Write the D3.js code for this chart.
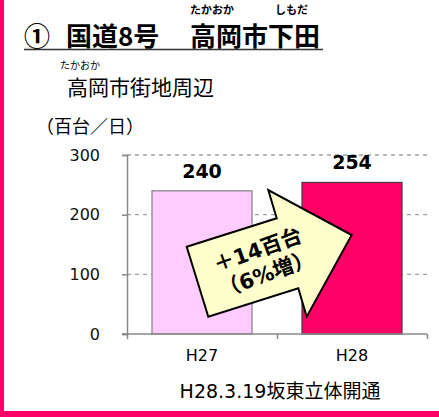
<!DOCTYPE html>
<html>
<head>
<meta charset="utf-8">
<script src="https://cdn.jsdelivr.net/npm/d3@7"></script>
<style>
  body { margin: 0; background: #fff; }
  svg text { font-family: "DejaVu Sans", "Noto Sans CJK JP", sans-serif; }
  svg text.jp { font-family: "Noto Sans CJK JP", sans-serif; }
</style>
</head>
<body>
<svg width="439" height="417"></svg>
<script>
'use strict';

var categories = ['H27', 'H28'],
    values = [240, 254],
    barColors = ['#ffccff', '#ff0066'],
    barStrokes = ['#7f7f7f', '#404040'],
    yTicks = [0, 100, 200, 300],
    titleParts = ['①', '国道8号', '高岡市下田'],
    titleRuby = ['たかおか', 'しもだ'],
    subtitle = '高岡市街地周辺',
    subtitleRuby = 'たかおか',
    unitLabel = '（百台／日）',
    note = 'H28.3.19坂東立体開通',
    arrowLines = ['＋14百台', '（6%増）'];

var svg = d3.select('svg');

// page frame (pink left and bottom edges)
svg.append('rect').attr('x', 0).attr('y', 0).attr('width', 4).attr('height', 417).attr('fill', '#ff0066');
svg.append('rect').attr('x', 0).attr('y', 411).attr('width', 439).attr('height', 6).attr('fill', '#ff0066');

// title with ruby
var titleX = [24, 66, 190];
svg.append('g').selectAll('text')
    .data(titleParts)
    .enter().append('text')
    .attr('class', 'jp')
    .attr('x', function (d, i) { return titleX[i]; })
    .attr('y', 46)
    .style('font-size', '26px').style('font-weight', 'bold')
    .text(function (d) { return d; });
svg.append('line').attr('x1', 24).attr('x2', 323).attr('y1', 49.5).attr('y2', 49.5)
    .attr('stroke', '#333').attr('stroke-width', 1.5);
var rubyX = [190, 275];
svg.append('g').selectAll('text')
    .data(titleRuby)
    .enter().append('text')
    .attr('class', 'jp')
    .attr('x', function (d, i) { return rubyX[i]; })
    .attr('y', 14)
    .style('font-size', '11px').style('font-weight', 'bold')
    .text(function (d) { return d; });

svg.append('text').attr('class', 'jp').attr('x', 60).attr('y', 69).style('font-size', '10px')
    .text(subtitleRuby);
svg.append('text').attr('class', 'jp').attr('x', 67).attr('y', 95).style('font-size', '21px')
    .text(subtitle);

svg.append('text').attr('class', 'jp').attr('x', 36).attr('y', 133).style('font-size', '18px')
    .text(unitLabel);

// scales
var x = d3.scaleBand().domain(categories).range([127, 427]).paddingInner(1 / 3).paddingOuter(1 / 6),
    y = d3.scaleLinear().domain([0, 300]).range([334, 155]);

// gridlines
svg.append('g').selectAll('line')
    .data(yTicks.filter(function (d) { return d > 0; }))
    .enter().append('line')
    .attr('x1', 127).attr('x2', 427)
    .attr('y1', function (d) { return y(d); })
    .attr('y2', function (d) { return y(d); })
    .attr('stroke', '#a0a0a0').attr('stroke-width', 1.3)
    .attr('stroke-dasharray', '4,4');

// y axis
var yAxis = svg.append('g').attr('transform', 'translate(127,0)')
    .call(d3.axisLeft(y).tickValues(yTicks).tickSize(5).tickPadding(22));
yAxis.select('.domain').attr('stroke', '#888').attr('stroke-width', 1.5);
yAxis.selectAll('.tick line').attr('stroke', '#888').attr('stroke-width', 1.5);
yAxis.selectAll('.tick text').style('font-size', '16px').attr('fill', '#111')
    .style('font-family', '"DejaVu Sans", sans-serif');

// bars
svg.append('g').selectAll('rect')
    .data(values)
    .enter().append('rect')
    .attr('x', function (d, i) { return x(categories[i]); })
    .attr('y', function (d) { return y(d); })
    .attr('width', x.bandwidth())
    .attr('height', function (d) { return y(0) - y(d); })
    .attr('fill', function (d, i) { return barColors[i]; })
    .attr('stroke', function (d, i) { return barStrokes[i]; })
    .attr('stroke-width', 1.2);

// x axis
var xAxis = svg.append('g').attr('transform', 'translate(0,334)')
    .call(d3.axisBottom(d3.scaleLinear().domain([0, 2]).range([127, 427])).tickValues([0, 1, 2]).tickSize(5).tickFormat(''));
xAxis.select('.domain').attr('d', 'M122,0H427').attr('stroke', '#888').attr('stroke-width', 1.5);
xAxis.selectAll('.tick line').attr('stroke', '#888').attr('stroke-width', 1.5);

svg.append('g').selectAll('text')
    .data(categories)
    .enter().append('text')
    .attr('x', function (d) { return x(d) + x.bandwidth() / 2; })
    .attr('y', 361)
    .attr('text-anchor', 'middle')
    .style('font-size', '16px')
    .text(function (d) { return d; });

// value labels
svg.append('g').selectAll('text')
    .data(values)
    .enter().append('text')
    .attr('x', function (d, i) { return x(categories[i]) + x.bandwidth() / 2; })
    .attr('y', function (d) { return y(d) - 13; })
    .attr('text-anchor', 'middle')
    .style('font-size', '19px').style('font-weight', 'bold')
    .text(function (d) { return d; });

// increase arrow
var arrowPts = [[186.7, 246.7], [276.7, 218.3], [268.3, 190], [351.7, 235],
                [306.7, 316.7], [298.3, 288.3], [208.3, 316.7]];
svg.append('polygon')
    .attr('points', arrowPts.map(function (p) { return p.join(','); }).join(' '))
    .attr('fill', '#ffffcc').attr('stroke', '#000').attr('stroke-width', 2)
    .attr('stroke-linejoin', 'miter');

var arrowText = svg.append('g').attr('transform', 'translate(262,262) rotate(-20)');
arrowText.selectAll('text')
    .data(arrowLines)
    .enter().append('text')
    .attr('x', 0)
    .attr('y', function (d, i) { return i * 25.5 - 5.5; })
    .attr('text-anchor', 'middle')
    .style('font-size', '21px').style('font-weight', 'bold')
    .text(function (d) { return d; });

// note
svg.append('text').attr('x', 280).attr('y', 398).attr('text-anchor', 'middle')
    .style('font-size', '19px').text(note);
</script>
</body>
</html>
